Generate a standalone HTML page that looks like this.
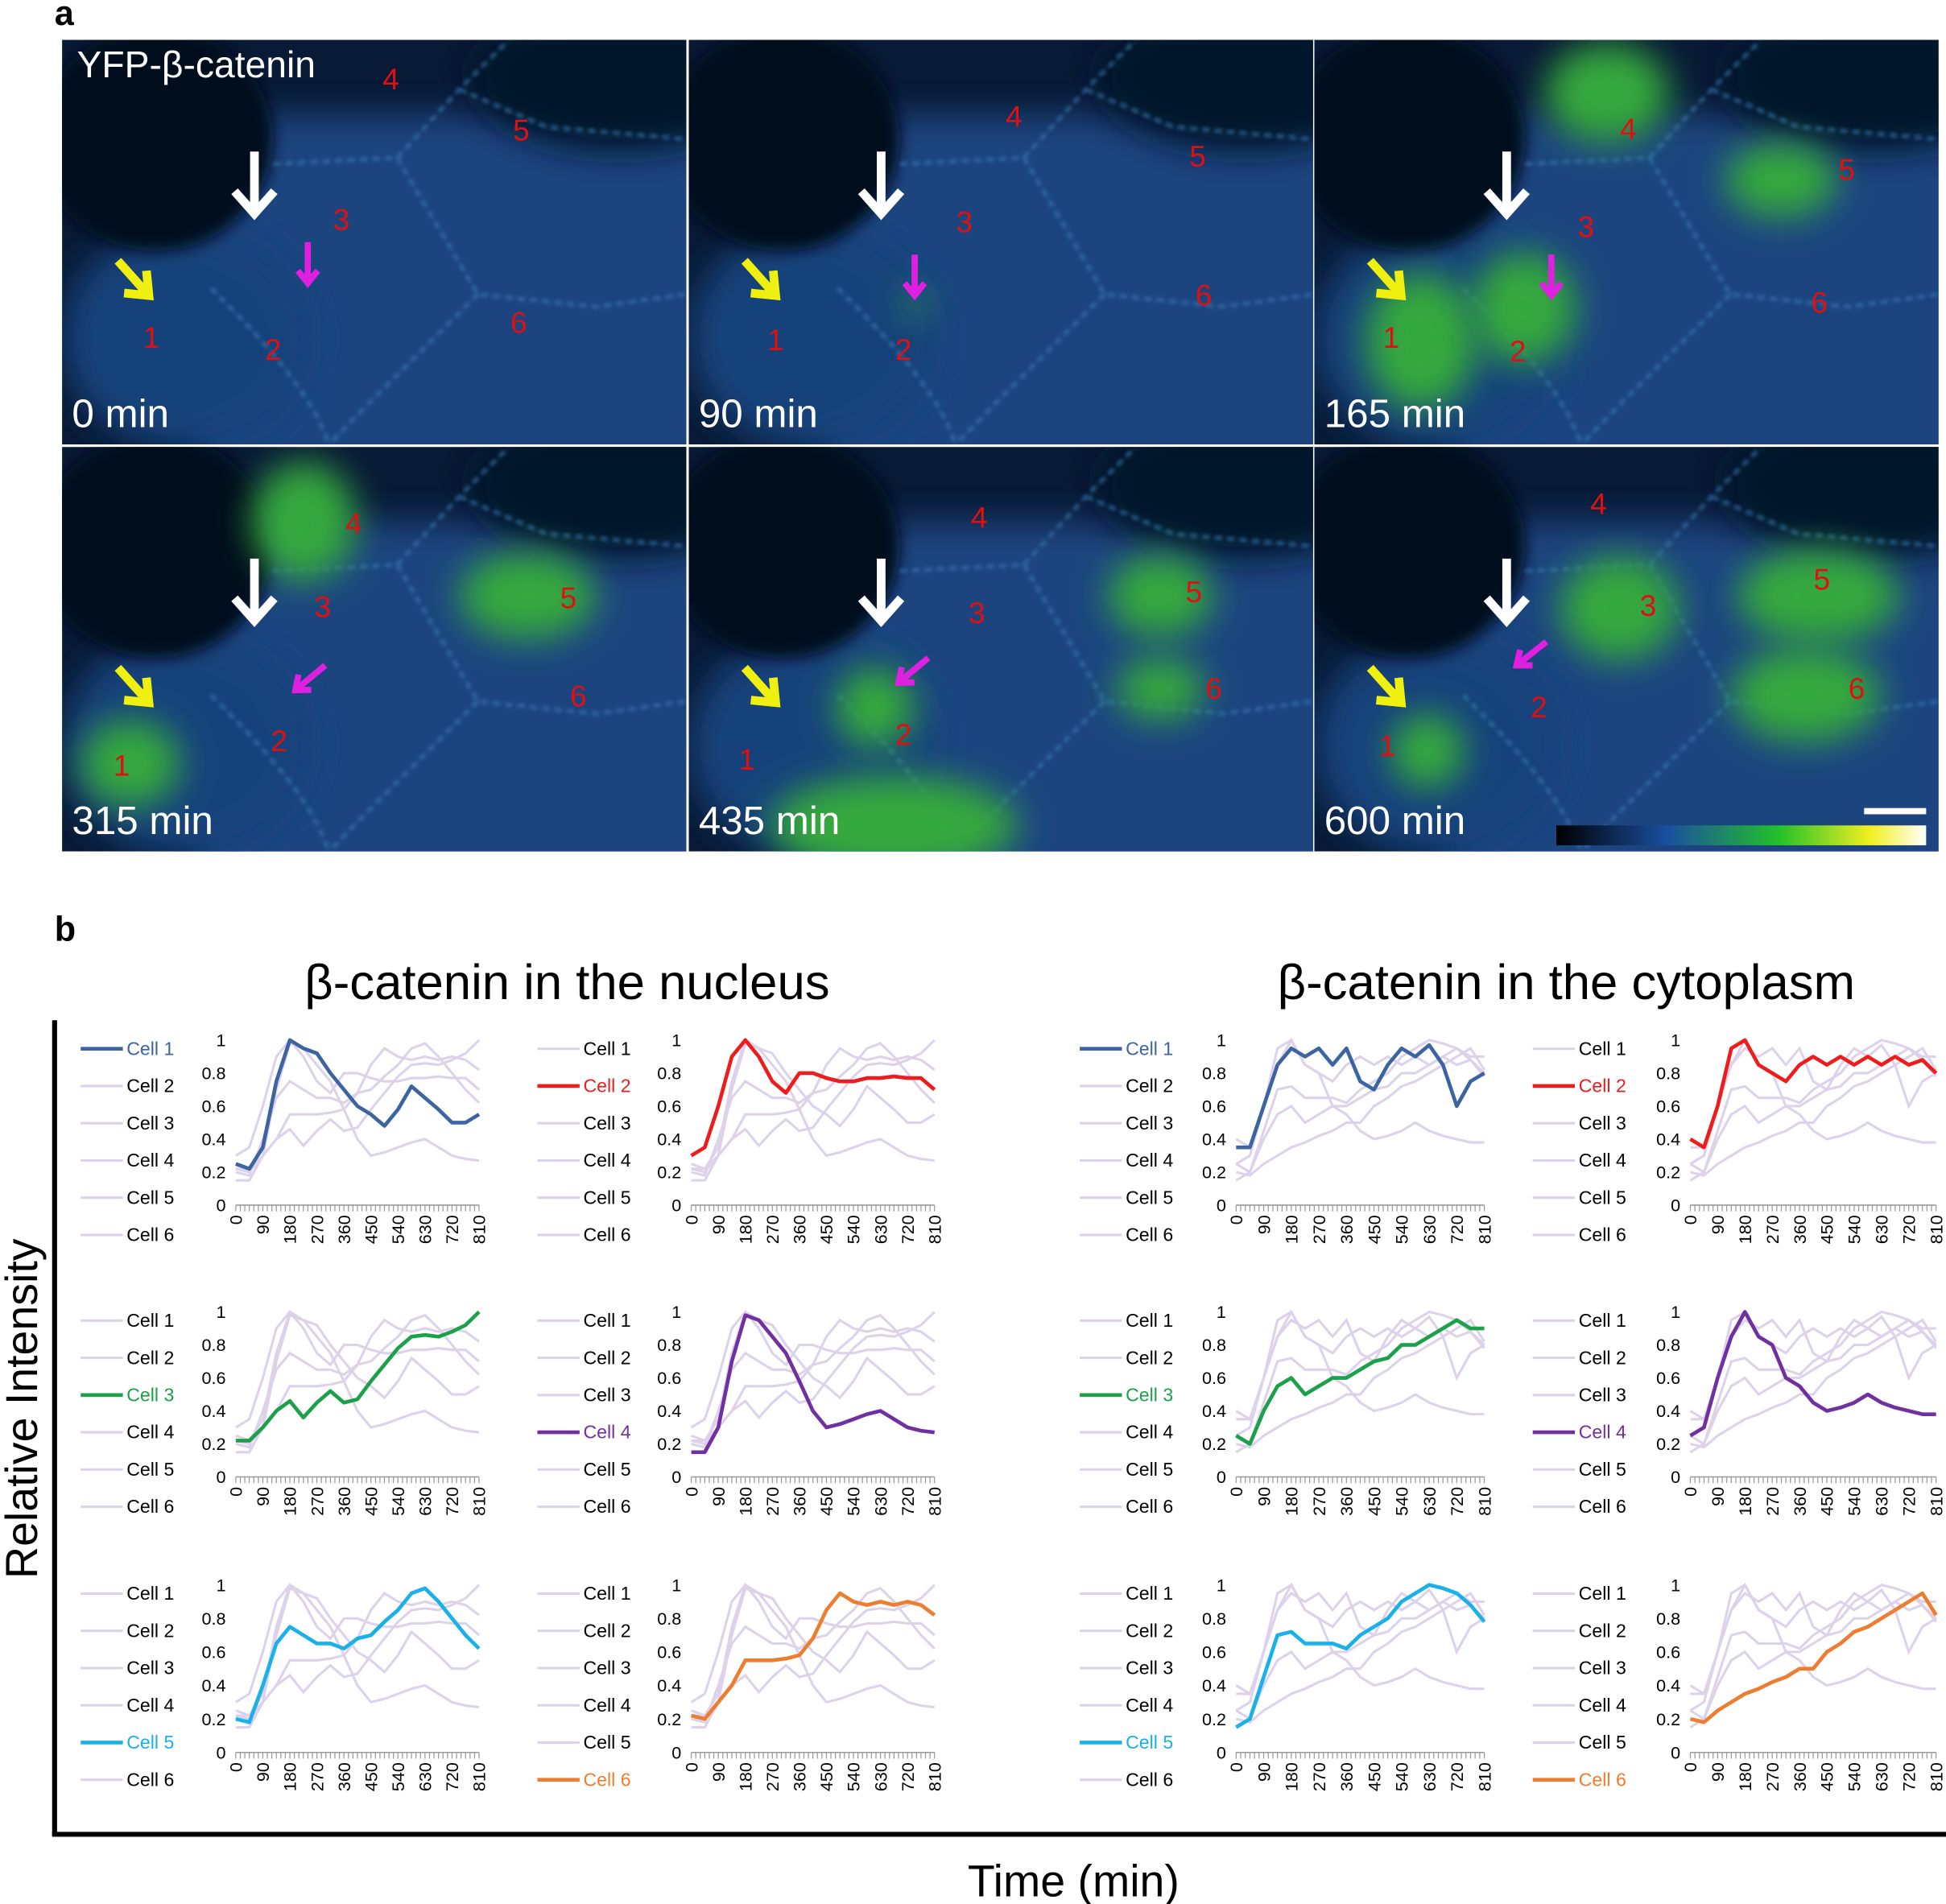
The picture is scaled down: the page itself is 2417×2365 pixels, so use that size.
<!DOCTYPE html>
<html><head><meta charset="utf-8"><style>
html,body{margin:0;padding:0;background:#fff;}
svg{display:block;}
text{font-family:"Liberation Sans",sans-serif;}
</style></head><body>
<svg id="fig" width="2417" height="2365" viewBox="0 0 1568 1534" xmlns="http://www.w3.org/2000/svg">
<defs>
<filter id="blur" filterUnits="userSpaceOnUse" x="0" y="0" width="1568" height="700"><feGaussianBlur stdDeviation="14"/></filter>
<filter id="blur2" filterUnits="userSpaceOnUse" x="0" y="0" width="1568" height="700"><feGaussianBlur stdDeviation="6"/></filter>
<filter id="blur3" filterUnits="userSpaceOnUse" x="0" y="0" width="1568" height="700"><feGaussianBlur stdDeviation="1.5"/></filter>
<linearGradient id="cbar" x1="0" x2="1" y1="0" y2="0">
<stop offset="0" stop-color="#000"/><stop offset="0.3" stop-color="#1a4fa0"/><stop offset="0.6" stop-color="#22c02a"/><stop offset="0.85" stop-color="#f2f020"/><stop offset="1" stop-color="#fff"/></linearGradient>
</defs>
<text x="44" y="20" font-size="28" font-weight="bold">a</text>
<text x="44" y="758" font-size="28" font-weight="bold">b</text>
<g id="micro"></g>
<text x="457" y="805" font-size="40" text-anchor="middle">β-catenin in the nucleus</text>
<text x="1262" y="805" font-size="40" text-anchor="middle">β-catenin in the cytoplasm</text>
<line x1="44" y1="822" x2="44" y2="1479" stroke="#000" stroke-width="4"/>
<line x1="42" y1="1478" x2="1568" y2="1478" stroke="#000" stroke-width="4"/>
<text transform="translate(30,1135) rotate(-90)" font-size="36" text-anchor="middle">Relative Intensity</text>
<text x="865" y="1528" font-size="36" text-anchor="middle">Time (min)</text>
<g id="charts"></g>
</svg>
<script>
// Data
const times = [0,45,90,135,180,225,270,315,360,405,450,495,540,585,630,675,720,765,810];
const xTickLabels = [0,90,180,270,360,450,540,630,720,810];
const yTickLabels = [0,0.2,0.4,0.6,0.8,1];
const cellNames = ["Cell 1","Cell 2","Cell 3","Cell 4","Cell 5","Cell 6"];
const cellColors = ["#3b64a0","#ee1c1c","#1ca04a","#7030a0","#1ab0e8","#ed7d31"];
const nucCell1 = [0.25,0.22,0.35,0.75,1.0,0.95,0.92,0.8,0.7,0.6,0.55,0.48,0.58,0.72,0.65,0.58,0.5,0.5,0.55];
const nucCell2 = [0.3,0.35,0.6,0.9,1.0,0.9,0.75,0.68,0.8,0.8,0.77,0.75,0.75,0.77,0.77,0.78,0.77,0.77,0.7];
const nucCell3 = [0.22,0.22,0.3,0.4,0.46,0.36,0.45,0.52,0.45,0.47,0.58,0.68,0.78,0.85,0.86,0.85,0.88,0.92,1.0];
const nucCell4 = [0.15,0.15,0.3,0.7,0.98,0.95,0.85,0.75,0.58,0.4,0.3,0.32,0.35,0.38,0.4,0.35,0.3,0.28,0.27];
const nucCell5 = [0.2,0.18,0.4,0.65,0.75,0.7,0.65,0.65,0.62,0.68,0.7,0.78,0.85,0.95,0.98,0.9,0.8,0.7,0.62];
const nucCell6 = [0.22,0.2,0.3,0.4,0.55,0.55,0.55,0.56,0.58,0.68,0.85,0.95,0.9,0.88,0.9,0.88,0.9,0.88,0.82];
const cytCell1 = [0.35,0.35,0.6,0.85,0.95,0.9,0.95,0.85,0.95,0.75,0.7,0.85,0.95,0.9,0.97,0.85,0.6,0.75,0.8];
const cytCell2 = [0.4,0.35,0.6,0.95,1.0,0.85,0.8,0.75,0.85,0.9,0.85,0.9,0.85,0.9,0.85,0.9,0.85,0.88,0.8];
const cytCell3 = [0.25,0.2,0.4,0.55,0.6,0.5,0.55,0.6,0.6,0.65,0.7,0.72,0.8,0.8,0.85,0.9,0.95,0.9,0.9];
const cytCell4 = [0.25,0.3,0.6,0.85,1.0,0.85,0.8,0.6,0.55,0.45,0.4,0.42,0.45,0.5,0.45,0.42,0.4,0.38,0.38];
const cytCell5 = [0.15,0.2,0.45,0.7,0.72,0.65,0.65,0.65,0.62,0.7,0.75,0.8,0.9,0.95,1.0,0.98,0.95,0.88,0.78];
const cytCell6 = [0.2,0.18,0.25,0.3,0.35,0.38,0.42,0.45,0.5,0.5,0.6,0.65,0.72,0.75,0.8,0.85,0.9,0.95,0.82];
const nucSeries = [nucCell1,nucCell2,nucCell3,nucCell4,nucCell5,nucCell6];
const cytSeries = [cytCell1,cytCell2,cytCell3,cytCell4,cytCell5,cytCell6];

const NS = "http://www.w3.org/2000/svg";
function mk(tag, attrs, parent){const e=document.createElementNS(NS,tag);for(const k in attrs)e.setAttribute(k,attrs[k]);parent.appendChild(e);return e;}

// Microscopy panels
const micro=document.getElementById('micro');
const panels=[
 {x:50,y:32,t:"0 min",green:[],nums:[[122,280,"1"],[220,290,"2"],[275,185,"3"],[315,72,"4"],[420,113,"5"],[418,268,"6"]],mag:[248,195,248,228]},
 {x:555,y:32,t:"90 min",green:[[737,245,8,10]],nums:[[625,282,"1"],[728,290,"2"],[777,187,"3"],[817,102,"4"],[965,134,"5"],[970,246,"6"]],mag:[737,205,737,238]},
 {x:1059,y:32,t:"165 min",green:[[1145,275,45,55],[1228,248,42,45],[1295,75,50,40],[1435,145,45,30]],nums:[[1121,280,"1"],[1223,291,"2"],[1278,191,"3"],[1312,112,"4"],[1488,145,"5"],[1466,252,"6"]],mag:[1250,205,1250,238]},
 {x:50,y:360,t:"315 min",green:[[245,420,42,48],[425,480,55,35],[105,615,40,35]],nums:[[98,625,"1"],[225,605,"2"],[260,497,"3"],[285,430,"4"],[458,490,"5"],[466,569,"6"]],mag:[262,536,238,556]},
 {x:555,y:360,t:"435 min",green:[[705,570,32,32],[720,665,100,40],[935,480,42,33],[935,555,35,25]],nums:[[602,620,"1"],[728,600,"2"],[787,502,"3"],[789,425,"4"],[962,485,"5"],[978,563,"6"]],mag:[748,530,724,550]},
 {x:1059,y:360,t:"600 min",green:[[1305,490,48,42],[1465,480,65,38],[1455,560,60,38],[1150,605,30,30]],nums:[[1118,609,"1"],[1240,578,"2"],[1328,496,"3"],[1288,414,"4"],[1468,475,"5"],[1496,563,"6"]],mag:[1246,517,1222,536]}
];
panels.forEach((p,i)=>{
 const g=mk('g',{},micro);
 
 
 const cid='clip'+i;
 const cp=mk('clipPath',{id:cid},g); mk('rect',{x:p.x,y:p.y,width:503,height:326},cp);
 const inner=mk('g',{'clip-path':'url(#'+cid+')'},g);
 mk('rect',{x:p.x,y:p.y,width:503,height:326,fill:'#081a36'},inner);
 mk('rect',{x:p.x+110,y:p.y+60,width:420,height:300,fill:'#1a4580',filter:'url(#blur)'},inner);
 mk('ellipse',{cx:p.x+100,cy:p.y+240,rx:100,ry:90,fill:'#19427c',filter:'url(#blur)'},inner);
 mk('ellipse',{cx:p.x+75,cy:p.y+80,rx:95,ry:90,fill:'#040c1c',filter:'url(#blur2)'},inner);
 mk('ellipse',{cx:p.x+450,cy:p.y+30,rx:120,ry:60,fill:'#06122a',filter:'url(#blur)'},inner);
 // cell boundaries
 mk('path',{d:`M${p.x+120} ${p.y+200} C${p.x+150} ${p.y+230} ${p.x+200} ${p.y+280} ${p.x+215} ${p.y+326} M${p.x+170} ${p.y+100} L${p.x+270} ${p.y+95} L${p.x+335} ${p.y+205} L${p.x+430} ${p.y+215} L${p.x+503} ${p.y+205} M${p.x+270} ${p.y+95} L${p.x+320} ${p.y+40} L${p.x+360} ${p.y} M${p.x+335} ${p.y+205} L${p.x+250} ${p.y+290} L${p.x+215} ${p.y+326} M${p.x+320} ${p.y+40} L${p.x+390} ${p.y+70} L${p.x+503} ${p.y+80}`,stroke:'#3a78b0','stroke-width':3,fill:'none','stroke-dasharray':'6 4',opacity:0.7,filter:'url(#blur3)'},inner);
 p.green.forEach(c=>mk('ellipse',{cx:c[0],cy:c[1],rx:c[2],ry:c[3],fill:'#36a83c',filter:'url(#blur)'},inner));
 const lbl=mk('text',{x:p.x+8,y:p.y+312,'font-size':32,fill:'#fff'},inner); lbl.textContent=p.t;
 p.nums.forEach(n=>{const t=mk('text',{x:n[0],y:n[1],'font-size':24,fill:'#e01010','text-anchor':'middle'},inner);t.textContent=n[2];
  
  });
 // arrows
 mk('path',{d:`M${p.x+155} ${p.y+90} l0 50 m-16 -18 l16 18 l16 -18`,stroke:'#fff','stroke-width':7,fill:'none'},inner);
 mk('path',{d:`M${p.x+45} ${p.y+178} l25 28 m-2 -20 l2 20 l-20 -2`,stroke:'#f0f010','stroke-width':7,fill:'none'},inner);
 const m=p.mag, dx=m[2]-m[0], dy=m[3]-m[1], L=Math.hypot(dx,dy), ux=dx/L, uy=dy/L;
 mk('path',{d:`M${m[0]} ${m[1]} L${m[2]} ${m[3]} M${m[2]-10*ux-8*uy} ${m[3]-10*uy+8*ux} L${m[2]} ${m[3]} L${m[2]-10*ux+8*uy} ${m[3]-10*uy-8*ux}`,stroke:'#e020e0','stroke-width':5,fill:'none'},inner);
});
const yfp=mk('text',{x:62,y:62,'font-size':30,fill:'#fff'},micro); yfp.textContent="YFP-β-catenin";


const cb=mk('rect',{x:1254,y:665,width:298,height:16,fill:'url(#cbar)'},micro);


mk('rect',{x:1502,y:651,width:50,height:5,fill:'#fff'},micro);

// Charts
const charts=document.getElementById('charts');
const cols=[{L:190,R:386,lx:65,set:'nuc'},{L:557,R:753,lx:433,set:'nuc'},{L:996,R:1196,lx:870,set:'cyt'},{L:1362,R:1560,lx:1235,set:'cyt'}];
const rows=[{T:838,B:971},{T:1057,B:1190},{T:1277,B:1412}];
rows.forEach((r,ri)=>cols.forEach((c,ci)=>{
 const hl=ri*2+(ci%2);
 const series=c.set==='nuc'?nucSeries:cytSeries;
 const g=mk('g',{},charts);
 
 
 const xs=t=>c.L+(t/810)*(c.R-c.L);
 const ys=v=>r.B-v*(r.B-r.T);
 mk('line',{x1:c.L,y1:r.B,x2:c.R,y2:r.B,stroke:'#999','stroke-width':1},g);
 for(let t=0;t<=810;t+=15) mk('line',{x1:xs(t),y1:r.B,x2:xs(t),y2:r.B+5,stroke:'#999','stroke-width':0.8},g);
 xTickLabels.forEach(t=>{const tx=mk('text',{transform:`translate(${xs(t)+5},${r.B+8}) rotate(-90)`,'font-size':14,'text-anchor':'end'},g);tx.textContent=t;
  
  });
 yTickLabels.forEach(v=>{const ty=mk('text',{x:c.L-8,y:ys(v)+5,'font-size':14,'text-anchor':'end'},g);ty.textContent=v;
  
  });
 series.forEach((s,si)=>{ if(si===hl) return;
  const pl=mk('polyline',{points:s.map((v,k)=>xs(times[k])+','+ys(v)).join(' '),fill:'none',stroke:'#ddd2ea','stroke-width':2},g);
  
  });
 const s=series[hl];
 const hp=mk('polyline',{points:s.map((v,k)=>xs(times[k])+','+ys(v)).join(' '),fill:'none',stroke:cellColors[hl],'stroke-width':3,'stroke-linejoin':'round'},g);
 
 
 cellNames.forEach((n,li)=>{
  const y=r.T+7+li*30;
  const on=li===hl;
  const lg=mk('g',{},g);
  
  
  mk('line',{x1:c.lx,y1:y,x2:c.lx+34,y2:y,stroke:on?cellColors[li]:'#ddd2ea','stroke-width':on?3:2},lg);
  const t=mk('text',{x:c.lx+37,y:y+5,'font-size':15,fill:on?cellColors[li]:'#000'},lg);t.textContent=n;
 });
}));
</script>
</body></html>
